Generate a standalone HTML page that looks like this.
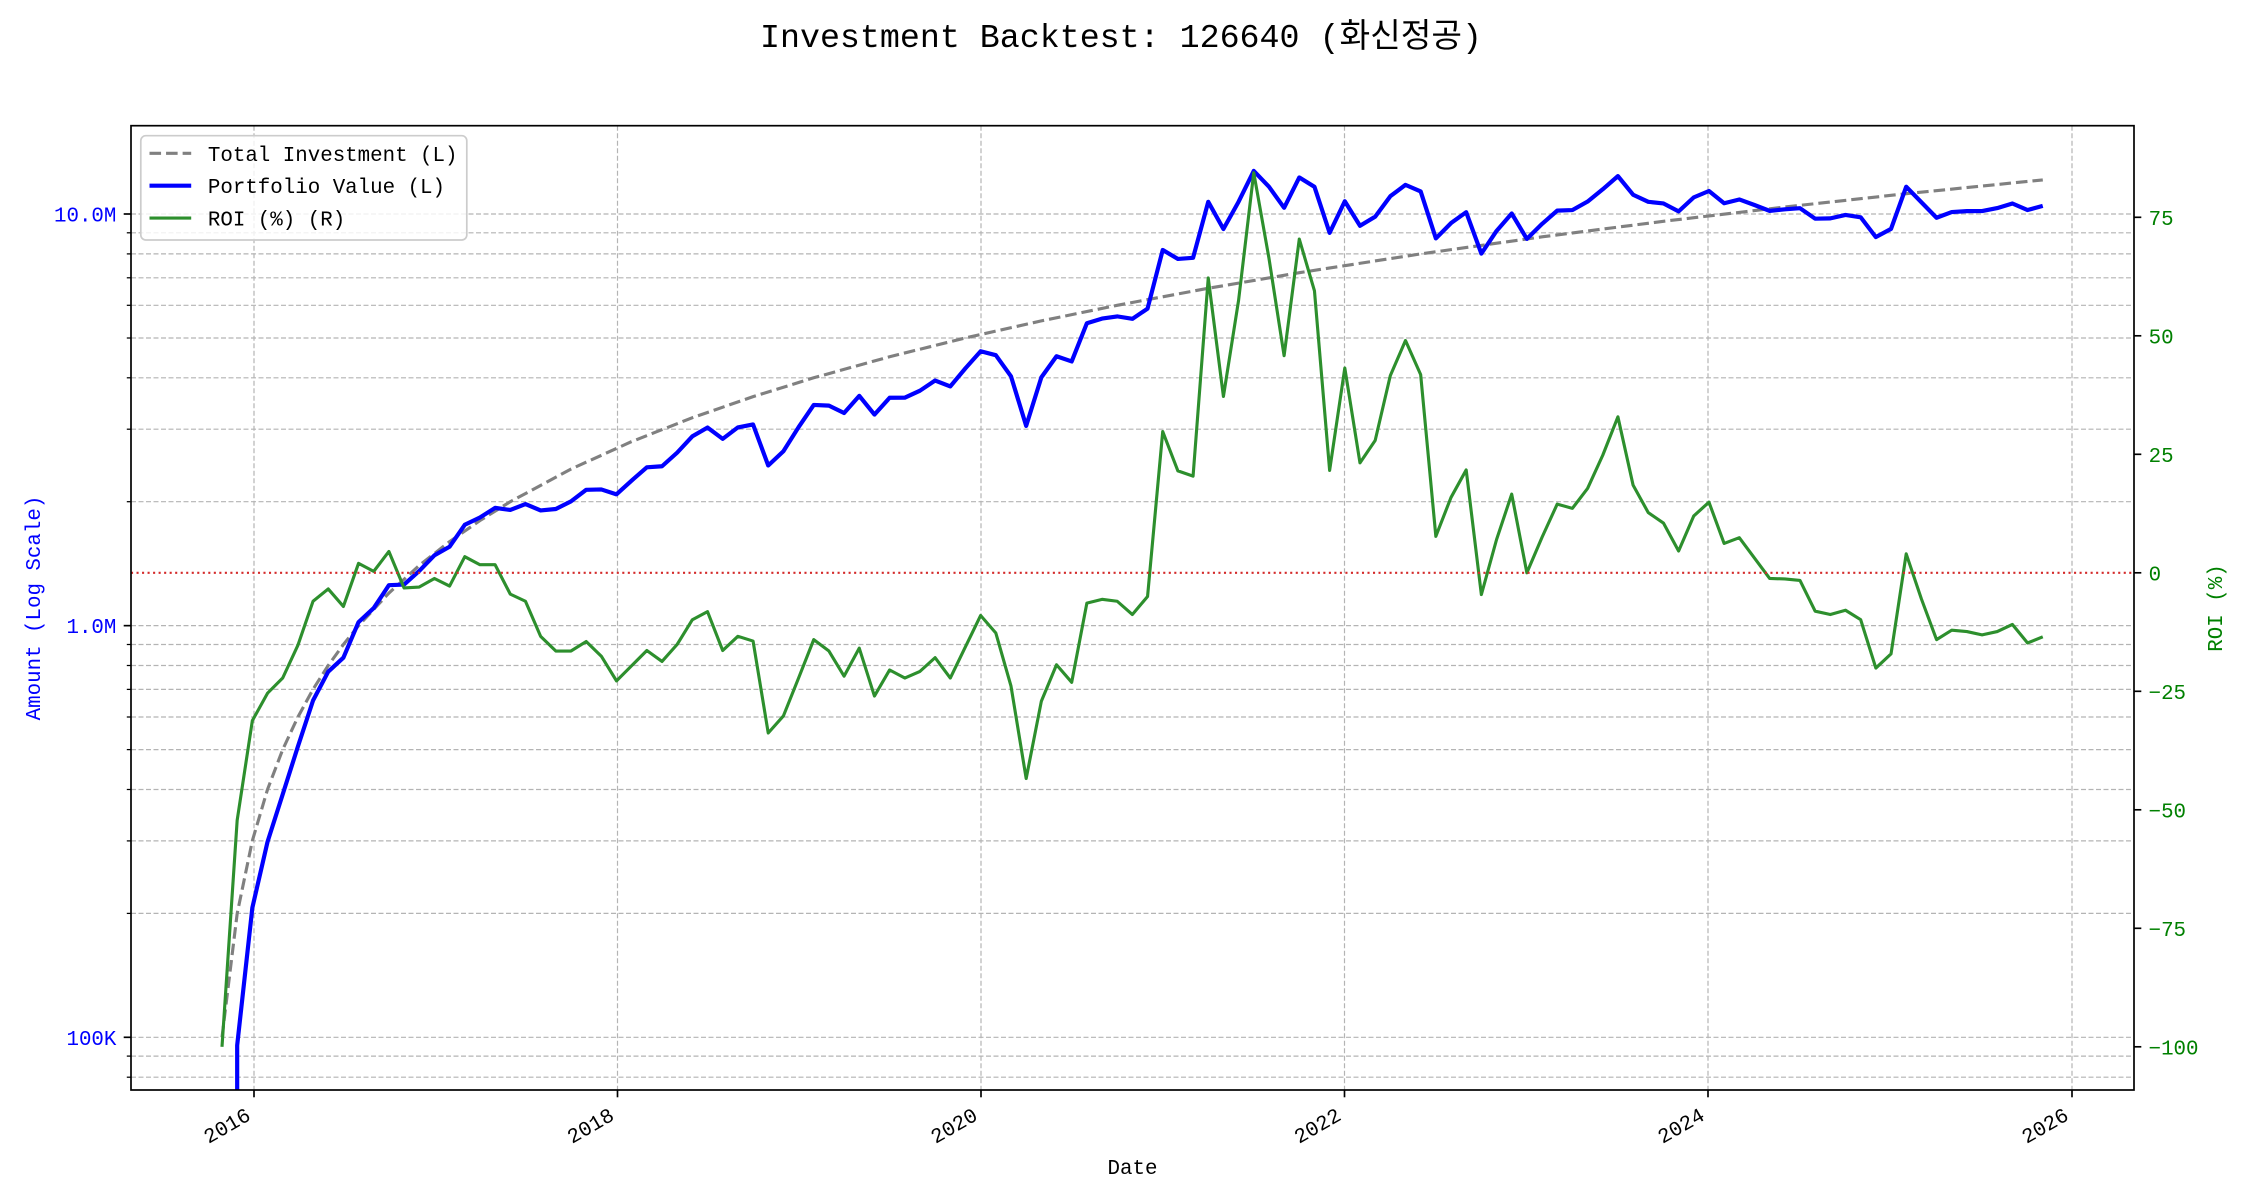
<!DOCTYPE html>
<html>
<head>
<meta charset="utf-8">
<style>
  html, body { margin: 0; padding: 0; background: #ffffff; }
  svg { display: block; }
  text { font-family: "Liberation Mono", "Noto Sans CJK KR", monospace; }
</style>
</head>
<body>
<svg width="2250" height="1200" viewBox="0 0 2250 1200" xmlns="http://www.w3.org/2000/svg">
  <defs>
    <clipPath id="plot">
      <rect x="131" y="125.7" width="2003" height="964.3"/>
    </clipPath>
  </defs>
  <rect x="0" y="0" width="2250" height="1200" fill="#ffffff"/>

  <!-- Title -->
  <text x="1121" y="47" font-size="33.3" text-anchor="middle" fill="#000">Investment Backtest: 126640 (화신정공)</text>

  <!-- Grid -->
  <g stroke="#b4b4b4" stroke-width="1.2" stroke-dasharray="5 2.5" fill="none">
    <line x1="131" x2="2134" y1="214" y2="214"/>
    <line x1="131" x2="2134" y1="232.8" y2="232.8"/>
    <line x1="131" x2="2134" y1="253.9" y2="253.9"/>
    <line x1="131" x2="2134" y1="277.8" y2="277.8"/>
    <line x1="131" x2="2134" y1="305.3" y2="305.3"/>
    <line x1="131" x2="2134" y1="338" y2="338"/>
    <line x1="131" x2="2134" y1="377.8" y2="377.8"/>
    <line x1="131" x2="2134" y1="429.2" y2="429.2"/>
    <line x1="131" x2="2134" y1="501.7" y2="501.7"/>
    <line x1="131" x2="2134" y1="625.65" y2="625.65"/>
    <line x1="131" x2="2134" y1="644.5" y2="644.5"/>
    <line x1="131" x2="2134" y1="665.5" y2="665.5"/>
    <line x1="131" x2="2134" y1="689.4" y2="689.4"/>
    <line x1="131" x2="2134" y1="717" y2="717"/>
    <line x1="131" x2="2134" y1="749.6" y2="749.6"/>
    <line x1="131" x2="2134" y1="789.5" y2="789.5"/>
    <line x1="131" x2="2134" y1="840.9" y2="840.9"/>
    <line x1="131" x2="2134" y1="913.4" y2="913.4"/>
    <line x1="131" x2="2134" y1="1037.3" y2="1037.3"/>
    <line x1="131" x2="2134" y1="1056.1" y2="1056.1"/>
    <line x1="131" x2="2134" y1="1077.2" y2="1077.2"/>
    <line x1="254" x2="254" y1="125.7" y2="1090"/>
    <line x1="617.5" x2="617.5" y1="125.7" y2="1090"/>
    <line x1="981" x2="981" y1="125.7" y2="1090"/>
    <line x1="1344.5" x2="1344.5" y1="125.7" y2="1090"/>
    <line x1="1708" x2="1708" y1="125.7" y2="1090"/>
    <line x1="2072" x2="2072" y1="125.7" y2="1090"/>
  </g>

  <g clip-path="url(#plot)">
    <!-- Total Investment (gray dashed) -->
    <polyline fill="none" stroke="#808080" stroke-width="3.125" stroke-dasharray="11.56 5" stroke-linejoin="round"
      points="222,1037.3 237.2,913.4 252.3,840.9 267.5,789.5 282.7,749.6 297.9,717 313,689.4 328.2,665.5 343.4,644.5 358.6,625.65 388.9,593.05 419.2,565.5 449.6,541.6 479.9,520.6 510.3,501.7 570.9,469.1 631.6,441.6 692.4,417.7 753.1,396.65 813.7,377.8 889.6,356.75 965.5,337.9 1041.3,320.9 1117.2,305.3 1208.2,288.3 1299.3,272.7 1420.7,253.9 1542.1,236.85 1663.4,221.3 1784.8,207 1906.2,193.7 2042.8,179.9"/>

    <!-- Portfolio Value (blue) -->
    <polyline fill="none" stroke="#0000ff" stroke-width="4.17" stroke-linejoin="round" vector-effect="non-scaling-stroke"
      transform="matrix(15.173 0 0 -411.65 222 1037.3)"
      points="1,-0.3 1,-0.0196 2,0.3147 3,0.4748 4,0.59 5,0.7061 6,0.8182 7,0.8881 8,0.9222 9,1.0086 10,1.0427 11,1.0983 12,1.0998 13,1.1329 14,1.1709 15,1.1918 16,1.245 17,1.2626 18,1.2861 19,1.281 20,1.2953 21,1.2799 22,1.2834 23,1.3019 24,1.3299 25,1.3309 26,1.319 27,1.3525 28,1.3846 29,1.3872 30,1.4203 31,1.4599 32,1.4813 33,1.4537 34,1.4816 35,1.4888 36,1.3891 37,1.4237 38,1.4821 39,1.5361 40,1.5345 41,1.5165 42,1.5583 43,1.5127 44,1.5536 45,1.5538 46,1.5708 47,1.5955 48,1.5812 49,1.6253 50,1.6666 51,1.657 52,1.6057 53,1.4852 54,1.6031 55,1.6545 56,1.6418 57,1.7347 58,1.7459 59,1.7513 60,1.7453 61,1.7701 62,1.9126 63,1.8908 64,1.8935 65,2.0296 66,1.9635 67,2.0298 68,2.1047 69,2.0663 70,2.0151 71,2.0888 72,2.0661 73,1.9541 74,2.031 75,1.9714 76,1.9934 77,2.0432 78,2.0708 79,2.0548 80,1.9407 81,1.9779 82,2.0044 83,1.9038 84,1.9588 85,2.0012 86,1.9395 87,1.9759 88,2.0082 89,2.0096 90,2.0301 91,2.06 92,2.092 93,2.0468 94,2.0296 95,2.0257 96,2.0063 97,2.0404 98,2.0559 99,2.0261 100,2.0353 101,2.0219 102,2.0076 103,2.0113 104,2.0142 105,1.9886 106,1.9894 107,1.9977 108,1.9921 109,1.9439 110,1.9639 111,2.0662 112,2.0285 113,1.9909 114,2.0047 115,2.007 116,2.0072 117,2.0144 118,2.0255 119,2.0096 120,2.0198"/>

    <!-- ROI (green) -->
    <polyline fill="none" stroke="#2d8f2d" stroke-width="3.125" stroke-linejoin="round" vector-effect="non-scaling-stroke"
      transform="matrix(15.173 0 0 -4.74 222 572.8)"
      points="0,-100 1,-52.2 2,-31.2 3,-25.4 4,-22.2 5,-15.3 6,-6 7,-3.4 8,-7.1 9,2 10,0.3 11,4.5 12,-3.2 13,-3 14,-1.2 15,-2.8 16,3.4 17,1.7 18,1.7 19,-4.5 20,-6 21,-13.4 22,-16.5 23,-16.5 24,-14.5 25,-17.6 26,-22.8 27,-19.6 28,-16.4 29,-18.7 30,-15.1 31,-9.9 32,-8.2 33,-16.4 34,-13.4 35,-14.4 36,-33.8 37,-30.2 38,-22.2 39,-14.1 40,-16.5 41,-21.8 42,-15.9 43,-26 44,-20.5 45,-22.2 46,-20.8 47,-17.9 48,-22.2 49,-15.6 50,-9 51,-12.7 52,-23.9 53,-43.4 54,-27.1 55,-19.4 56,-23.1 57,-6.4 58,-5.6 59,-6 60,-8.8 61,-5 62,29.8 63,21.5 64,20.4 65,62.2 66,37.2 67,57.5 68,84.4 69,66.4 70,45.8 71,70.4 72,59.5 73,21.6 74,43.2 75,23.2 76,27.9 77,41.6 78,49 79,41.8 80,7.7 81,15.9 82,21.7 83,-4.6 84,7 85,16.6 86,0 87,7.5 88,14.5 89,13.6 90,17.8 91,24.8 92,32.9 93,18.5 94,12.7 95,10.5 96,4.6 97,12 98,14.9 99,6.2 100,7.4 101,3.1 102,-1.2 103,-1.3 104,-1.6 105,-8.1 106,-8.8 107,-7.9 108,-9.9 109,-20.1 110,-17.1 111,4 112,-5.5 113,-14.1 114,-12.1 115,-12.4 116,-13.1 117,-12.4 118,-10.9 119,-14.8 120,-13.5"/>

    <!-- ROI zero line -->
    <line x1="131" x2="2134" y1="572.8" y2="572.8" stroke="#d42a2a" stroke-width="2.08" stroke-dasharray="2.08 3.44"/>
  </g>

  <!-- Spines -->
  <rect x="131" y="125.7" width="2003" height="964.3" fill="none" stroke="#000" stroke-width="1.7"/>

  <!-- Left ticks -->
  <g stroke="#000" stroke-width="1.67">
    <line x1="123.7" x2="131" y1="214" y2="214"/>
    <line x1="123.7" x2="131" y1="625.65" y2="625.65"/>
    <line x1="123.7" x2="131" y1="1037.3" y2="1037.3"/>
  </g>
  <g stroke="#000" stroke-width="1.25">
    <line x1="126.8" x2="131" y1="232.8" y2="232.8"/>
    <line x1="126.8" x2="131" y1="253.9" y2="253.9"/>
    <line x1="126.8" x2="131" y1="277.8" y2="277.8"/>
    <line x1="126.8" x2="131" y1="305.3" y2="305.3"/>
    <line x1="126.8" x2="131" y1="338" y2="338"/>
    <line x1="126.8" x2="131" y1="377.8" y2="377.8"/>
    <line x1="126.8" x2="131" y1="429.2" y2="429.2"/>
    <line x1="126.8" x2="131" y1="501.7" y2="501.7"/>
    <line x1="126.8" x2="131" y1="644.5" y2="644.5"/>
    <line x1="126.8" x2="131" y1="665.5" y2="665.5"/>
    <line x1="126.8" x2="131" y1="689.4" y2="689.4"/>
    <line x1="126.8" x2="131" y1="717" y2="717"/>
    <line x1="126.8" x2="131" y1="749.6" y2="749.6"/>
    <line x1="126.8" x2="131" y1="789.5" y2="789.5"/>
    <line x1="126.8" x2="131" y1="840.9" y2="840.9"/>
    <line x1="126.8" x2="131" y1="913.4" y2="913.4"/>
    <line x1="126.8" x2="131" y1="1056.1" y2="1056.1"/>
    <line x1="126.8" x2="131" y1="1077.2" y2="1077.2"/>
  </g>
  <g font-size="20.8" fill="#0000ff" text-anchor="end">
    <text x="116.4" y="221.5">10.0M</text>
    <text x="116.4" y="633">1.0M</text>
    <text x="116.4" y="1044.8">100K</text>
  </g>

  <!-- Right ticks -->
  <g stroke="#000" stroke-width="1.67">
    <line x1="2134" x2="2141.3" y1="217.3" y2="217.3"/>
    <line x1="2134" x2="2141.3" y1="335.8" y2="335.8"/>
    <line x1="2134" x2="2141.3" y1="454.3" y2="454.3"/>
    <line x1="2134" x2="2141.3" y1="572.8" y2="572.8"/>
    <line x1="2134" x2="2141.3" y1="691.3" y2="691.3"/>
    <line x1="2134" x2="2141.3" y1="809.8" y2="809.8"/>
    <line x1="2134" x2="2141.3" y1="928.3" y2="928.3"/>
    <line x1="2134" x2="2141.3" y1="1046.8" y2="1046.8"/>
  </g>
  <g font-size="20.8" fill="#008000" text-anchor="start">
    <text x="2148.6" y="224.8">75</text>
    <text x="2148.6" y="343.3">50</text>
    <text x="2148.6" y="461.8">25</text>
    <text x="2148.6" y="580.3">0</text>
    <text x="2148.6" y="698.8">−25</text>
    <text x="2148.6" y="817.3">−50</text>
    <text x="2148.6" y="935.8">−75</text>
    <text x="2148.6" y="1054.3">−100</text>
  </g>

  <!-- Bottom ticks -->
  <g stroke="#000" stroke-width="1.67">
    <line x1="254" x2="254" y1="1090" y2="1097.3"/>
    <line x1="617.5" x2="617.5" y1="1090" y2="1097.3"/>
    <line x1="981" x2="981" y1="1090" y2="1097.3"/>
    <line x1="1344.5" x2="1344.5" y1="1090" y2="1097.3"/>
    <line x1="1708" x2="1708" y1="1090" y2="1097.3"/>
    <line x1="2072" x2="2072" y1="1090" y2="1097.3"/>
  </g>
  <g font-size="20.8" fill="#000" text-anchor="end">
    <text x="251.9" y="1119" transform="rotate(-30 251.9 1119)">2016</text>
    <text x="615.4" y="1119" transform="rotate(-30 615.4 1119)">2018</text>
    <text x="978.9" y="1119" transform="rotate(-30 978.9 1119)">2020</text>
    <text x="1342.4" y="1119" transform="rotate(-30 1342.4 1119)">2022</text>
    <text x="1705.9" y="1119" transform="rotate(-30 1705.9 1119)">2024</text>
    <text x="2069.9" y="1119" transform="rotate(-30 2069.9 1119)">2026</text>
  </g>

  <!-- Axis labels -->
  <text x="1132.5" y="1174" font-size="20.8" text-anchor="middle" fill="#000">Date</text>
  <text x="0" y="0" font-size="20.8" text-anchor="middle" fill="#0000ff" transform="translate(40 608) rotate(-90)">Amount (Log Scale)</text>
  <text x="0" y="0" font-size="20.8" text-anchor="middle" fill="#008000" transform="translate(2222 608) rotate(-90)">ROI (%)</text>

  <!-- Legend -->
  <rect x="140.8" y="135.7" width="326" height="104.3" rx="5" ry="5" fill="#ffffff" fill-opacity="0.8" stroke="#cccccc" stroke-width="1.7"/>
  <line x1="149.5" x2="191.2" y1="153.3" y2="153.3" stroke="#808080" stroke-width="3.125" stroke-dasharray="11.56 5"/>
  <line x1="149.5" x2="191.2" y1="185.7" y2="185.7" stroke="#0000ff" stroke-width="4.17"/>
  <line x1="149.5" x2="191.2" y1="218" y2="218" stroke="#2d8f2d" stroke-width="3.125"/>
  <g font-size="20.8" fill="#000">
    <text x="207.9" y="160.8">Total Investment (L)</text>
    <text x="207.9" y="193.2">Portfolio Value (L)</text>
    <text x="207.9" y="225.5">ROI (%) (R)</text>
  </g>
</svg>
</body>
</html>
